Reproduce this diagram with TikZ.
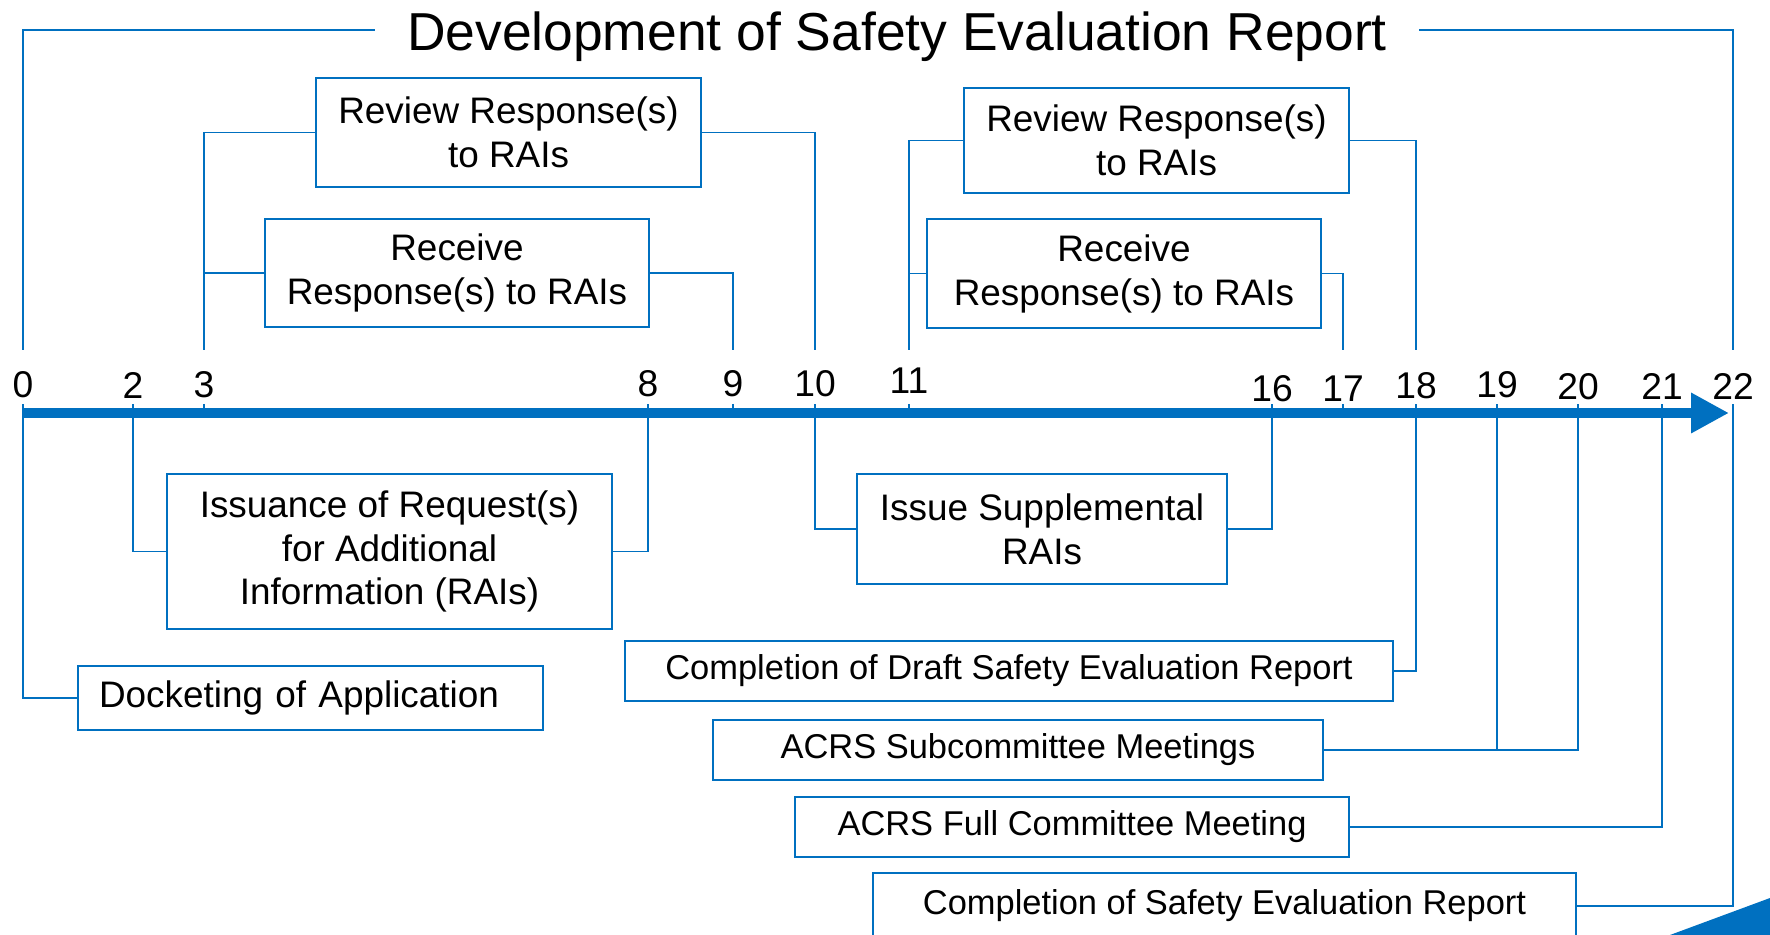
\documentclass[tikz,border=0pt]{standalone}
\usepackage{fontspec}
\setmainfont{Liberation Sans}
\usetikzlibrary{arrows.meta}
\definecolor{nrcblue}{HTML}{0070C0}
\begin{document}
\begin{tikzpicture}[x=0.1mm, y=-0.1mm,
  link/.style={nrcblue, line width=0.45pt},
  box/.style={draw=nrcblue, line width=0.6pt, fill=white, align=center, inner sep=0pt,
    font=\fontsize{10.5}{12.5}\selectfont},
  flat/.style={box, font=\fontsize{9.8}{12}\selectfont, minimum height=6mm},
  num/.style={font=\fontsize{10.6}{12}\selectfont}]

\useasboundingbox (0,0) rectangle (1770,935);

\node[font=\fontsize{15.2}{18}\selectfont, text height=11.4pt, text depth=0pt, inner xsep=9pt]
  (title) at (897,30) {Development of Safety Evaluation Report};

\foreach \t/\x/\y in {0/23/385, 2/133/385, 3/204/385, 8/648/384, 9/733/384, 10/815/384,
  11/909/381, 16/1272/389, 17/1343/389, 18/1416/386, 19/1497/385, 20/1578/387,
  21/1662/386, 22/1733/386} {
  \node[num] (n\t) at (\x,\y) {\t};
  \coordinate (up\t) at (\x,350);
  \coordinate (lo\t) at (\x,404);
}

\coordinate (axis start) at (23,413);
\coordinate (axis end) at (1729,413);
\draw[nrcblue, line width=3pt, -{Triangle[length=3.8mm, width=3.8mm]}] (axis start) -- (axis end);

\node[box, minimum width=38.5mm, minimum height=10.9mm] (rev1) at (508.5,132.5) {Review Response(s)\\to RAIs};
\node[box, minimum width=38.4mm, minimum height=10.8mm] (rec1) at (457,273) {Receive\\Response(s) to RAIs};
\node[box, minimum width=38.5mm, minimum height=10.5mm] (rev2) at (1156.5,140.5) {Review Response(s)\\to RAIs};
\node[box, minimum width=39.4mm, minimum height=10.9mm] (rec2) at (1124,273.5) {Receive\\Response(s) to RAIs};
\node[box, minimum width=44.5mm, minimum height=15.5mm] (iss) at (389.5,551.5) {Issuance of Request(s)\\for Additional\\Information (RAIs)};
\node[box, minimum width=37mm, minimum height=11mm] (sup) at (1042,529) {Issue Supplemental\\RAIs};
\node[box, text width=42.3mm, inner xsep=2.1mm, minimum height=6.4mm, align=left] (dock) at (310.5,698) {Docketing of Application};
\node[flat, minimum width=76.8mm] (draft) at (1009,671) {Completion of Draft Safety Evaluation Report};
\node[flat, minimum width=61mm] (sub) at (1018,750) {ACRS Subcommittee Meetings};
\node[flat, minimum width=55.4mm] (full) at (1072,827) {ACRS Full Committee Meeting};
\node[flat, minimum width=70.3mm, minimum height=6.6mm] (final) at (1224.5,906) {Completion of Safety Evaluation Report};

\draw[link] (title.west) -| (up0);
\draw[link] (title.east) -| (up22);
\draw[link] (rev1.west) -| (up3);
\draw[link] (rec1.west) -| (up3);
\draw[link] (rev1.east) -| (up10);
\draw[link] (rec1.east) -| (up9);
\draw[link] (rev2.west) -| (up11);
\draw[link] (rec2.west) -| (up11);
\draw[link] (rev2.east) -| (up18);
\draw[link] (rec2.east) -| (up17);

\draw[link] (dock.west) -| (lo0);
\draw[link] (iss.west) -| (lo2);
\draw[link] (iss.east) -| (lo8);
\draw[link] (sup.west) -| (lo10);
\draw[link] (sup.east) -| (lo16);
\draw[link] (draft.east) -| (lo18);
\draw[link] (sub.east) -| (lo19);
\draw[link] (sub.east) -| (lo20);
\draw[link] (full.east) -| (lo21);
\draw[link] (final.east) -| (lo22);
\foreach \t in {3,9,11,17}
  \draw[link] (lo\t) -- (lo\t |- axis start);

\fill[nrcblue] (1670,935) -- (1770,898) -- (1770,935) -- cycle;

\end{tikzpicture}
\end{document}
